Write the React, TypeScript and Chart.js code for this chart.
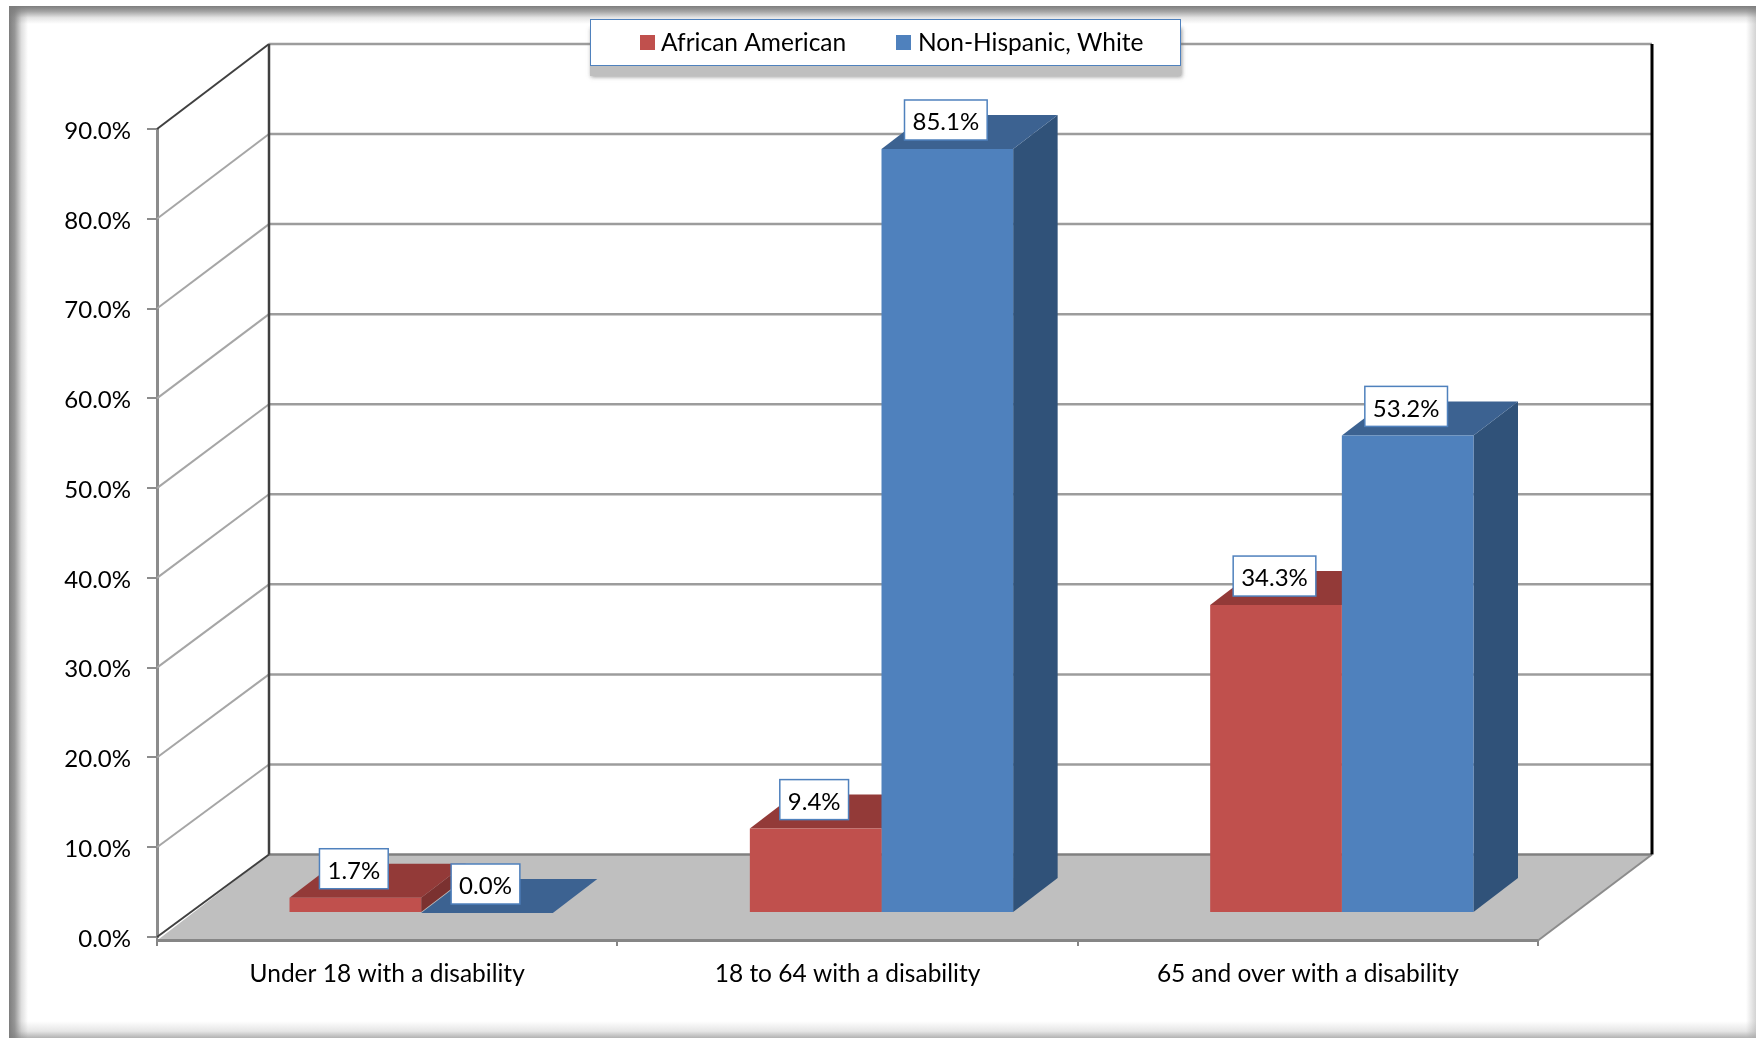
import React, { useEffect, useRef } from "react";
import { Chart, registerables } from "chart.js";

Chart.register(...registerables);

const categories = ["Under 18 with a disability", "18 to 64 with a disability", "65 and over with a disability"];
const africanAmerican = [1.7, 9.4, 34.3];
const nonHispanicWhite = [0.0, 85.1, 53.2];
const seriesNames = ["African American", "Non-Hispanic, White"];
const frontColors = ["#C0504D", "#4F81BD"];
const topColors = ["#933A38", "#3C6291"];
const sideColors = ["#7B3130", "#305279"];

const FONT = "Lato, Carlito, sans-serif";
const TICK_SIZE = 24;
const TEXT_SIZE = 24.5;
const BAR_SHIFT_X = 34;
const BAR_SHIFT_Y = 24;
const DEPTH_X = 44.5;
const DEPTH_Y = 34;
const WALL_X = 112;

function line(c: CanvasRenderingContext2D, pts: number[][], color: string, w: number) {
  c.strokeStyle = color;
  c.lineWidth = w;
  c.beginPath();
  pts.forEach((p, i) => (i ? c.lineTo(p[0], p[1]) : c.moveTo(p[0], p[1])));
  c.stroke();
}
function poly(c: CanvasRenderingContext2D, pts: number[][], color: string) {
  c.fillStyle = color;
  c.beginPath();
  pts.forEach((p, i) => (i ? c.lineTo(p[0], p[1]) : c.moveTo(p[0], p[1])));
  c.closePath();
  c.fill();
}

const framePlugin = {
  id: "frame",
  beforeDraw(chart: any) {
    const c = chart.ctx as CanvasRenderingContext2D;
    const L = 9, T = 6, R = 1756, B = 1038;
    c.save();
    c.fillStyle = "#ffffff";
    c.fillRect(0, 0, 1756, 1038);
    let g = c.createLinearGradient(R - 10, 0, R, 0);
    g.addColorStop(0, "rgba(200,200,200,0)");
    g.addColorStop(1, "rgba(200,200,200,0.8)");
    c.fillStyle = g;
    c.fillRect(R - 10, T, 10, B - T);
    g = c.createLinearGradient(0, B - 17, 0, B);
    g.addColorStop(0, "rgba(170,170,170,0)");
    g.addColorStop(0.6, "rgba(170,170,170,0.3)");
    g.addColorStop(1, "rgba(170,170,170,0.9)");
    c.fillStyle = g;
    c.fillRect(L, B - 17, R - L, 17);
    g = c.createLinearGradient(L, 0, L + 19, 0);
    g.addColorStop(0, "rgba(125,125,125,1)");
    g.addColorStop(0.3, "rgba(125,125,125,0.8)");
    g.addColorStop(0.65, "rgba(125,125,125,0.25)");
    g.addColorStop(1, "rgba(125,125,125,0)");
    c.fillStyle = g;
    c.fillRect(L, T, 19, B - T);
    g = c.createLinearGradient(0, T, 0, T + 18);
    g.addColorStop(0, "rgba(125,125,125,1)");
    g.addColorStop(0.3, "rgba(125,125,125,0.7)");
    g.addColorStop(0.65, "rgba(125,125,125,0.2)");
    g.addColorStop(1, "rgba(125,125,125,0)");
    c.fillStyle = g;
    c.fillRect(L, T, R - L, 18);
    c.restore();
  },
};

const wallsPlugin = {
  id: "walls",
  beforeDatasetsDraw(chart: any) {
    const c = chart.ctx as CanvasRenderingContext2D;
    const y = chart.scales.y;
    const { left, right } = chart.chartArea;
    const backX = left + WALL_X;
    const backR = right + 114;
    const backY = (v: number) => y.getPixelForValue(v) - (82.5 + (v / 90) * 2.5);
    const floorF = y.getPixelForValue(0) + 3.5;
    c.save();
    poly(c, [[left, floorF], [right, floorF], [backR, backY(0)], [backX, backY(0)]], "#BFBFBF");
    y.ticks.forEach((t: any) => {
      const v = t.value;
      if (v === 0) return;
      const dark = v === 90;
      line(c, [[left, y.getPixelForValue(v)], [backX, backY(v)]], dark ? "#404040" : "#A6A6A6", 2);
      line(c, [[backX, backY(v)], [backR, backY(v)]], "#9C9C9C", 2.5);
    });
    line(c, [[backX, backY(0)], [backR, backY(0)]], "#808080", 2.5);
    line(c, [[left, y.getPixelForValue(0)], [backX, backY(0)]], "#404040", 2);
    line(c, [[right, floorF], [backR, backY(0)]], "#8C8C8C", 2);
    line(c, [[backX, backY(90)], [backX, backY(0)]], "#404040", 2.5);
    line(c, [[backR, backY(90)], [backR, backY(0)]], "#000000", 3);
    line(c, [[left, floorF], [right, floorF]], "#868686", 3);
    // side and top faces of every bar, drawn behind the library's front faces
    c.translate(BAR_SHIFT_X, -BAR_SHIFT_Y);
    for (let d = chart.data.datasets.length - 1; d >= 0; d--) {
      chart.getDatasetMeta(d).data.forEach((bar: any) => {
        const l = bar.x - bar.width / 2, r = bar.x + bar.width / 2;
        const t = bar.y, b = bar.base;
        poly(c, [[r, t], [r + DEPTH_X, t - DEPTH_Y], [r + DEPTH_X, b - DEPTH_Y], [r, b]], sideColors[d]);
        poly(c, [[l, t], [r, t], [r + DEPTH_X, t - DEPTH_Y], [l + DEPTH_X, t - DEPTH_Y]], topColors[d]);
      });
    }
    c.restore();
    // the front faces themselves sit part way into the floor
    c.save();
    c.translate(BAR_SHIFT_X, -BAR_SHIFT_Y);
  },
  afterDatasetsDraw(chart: any) {
    const c = chart.ctx as CanvasRenderingContext2D;
    c.restore();
    c.save();
    c.font = `${TICK_SIZE}px ${FONT}`;
    c.textAlign = "center";
    c.textBaseline = "middle";
    chart.data.datasets.forEach((ds: any, d: number) => {
      chart.getDatasetMeta(d).data.forEach((bar: any, i: number) => {
        const text = ds.data[i].toFixed(1) + "%";
        const w = c.measureText(text).width + 16;
        const h = 40;
        const cx = bar.x + BAR_SHIFT_X - 1.5;
        const cy = bar.y - BAR_SHIFT_Y - 29;
        c.fillStyle = "#ffffff";
        c.fillRect(cx - w / 2, cy - h / 2, w, h);
        c.strokeStyle = "#4F81BD";
        c.lineWidth = 1.5;
        c.strokeRect(cx - w / 2, cy - h / 2, w, h);
        c.fillStyle = "#000000";
        c.fillText(text, cx, cy + 2.5);
      });
    });
    c.restore();
  },
};

const legendPlugin = {
  id: "boxLegend",
  afterDraw(chart: any) {
    const c = chart.ctx as CanvasRenderingContext2D;
    const x = 590, yT = 19, w = 591, h = 47;
    c.save();
    c.save();
    c.shadowColor = "rgba(110,110,110,0.7)";
    c.shadowBlur = 4;
    c.shadowOffsetX = 1;
    c.shadowOffsetY = 1;
    c.fillStyle = "#BFBFBF";
    c.fillRect(x, yT + 8, w, h + 2);
    c.restore();
    c.fillStyle = "#ffffff";
    c.fillRect(x, yT, w, h);
    c.strokeStyle = "#4F81BD";
    c.lineWidth = 1;
    c.strokeRect(x + 0.5, yT + 0.5, w - 1, h - 1);
    c.font = `${TEXT_SIZE}px ${FONT}`;
    c.textBaseline = "middle";
    c.textAlign = "left";
    const swatchX = [640, 896];
    const textX = [661, 918];
    chart.data.datasets.forEach((ds: any, d: number) => {
      c.fillStyle = ds.backgroundColor;
      c.fillRect(swatchX[d], 35, 15, 15);
      c.fillStyle = "#000000";
      c.fillText(ds.label, textX[d], 43);
    });
    c.restore();
  },
};

export default function App() {
  const ref = useRef<HTMLCanvasElement>(null);
  useEffect(() => {
    document.body.style.margin = "0";
    const chart = new Chart(ref.current as HTMLCanvasElement, {
      type: "bar",
      data: {
        labels: categories,
        datasets: [
          { label: seriesNames[0], data: africanAmerican, backgroundColor: frontColors[0], borderWidth: 0, clip: false },
          { label: seriesNames[1], data: nonHispanicWhite, backgroundColor: frontColors[1], borderWidth: 0, clip: false },
        ] as any,
      },
      options: {
        animation: false,
        responsive: false,
        devicePixelRatio: 1,
        layout: { padding: { left: 0, right: 218, top: 129, bottom: 41 } },
        datasets: { bar: { categoryPercentage: 0.572, barPercentage: 1 } },
        plugins: { legend: { display: false }, tooltip: { enabled: false } },
        scales: {
          x: {
            type: "category",
            afterFit: (s: any) => { s.height = 60; },
            grid: { drawOnChartArea: false, drawTicks: true, tickLength: 9, color: "#868686", lineWidth: 2, offset: true },
            border: { display: false },
            ticks: { color: "#000000", font: { family: FONT, size: TEXT_SIZE }, padding: 13, maxRotation: 0, autoSkip: false },
          },
          y: {
            type: "linear",
            min: 0,
            max: 90,
            afterFit: (s: any) => { s.width = 157; },
            grid: { drawOnChartArea: false, drawTicks: true, tickLength: 10, color: "#8C8C8C", lineWidth: 2 },
            border: { display: true, color: "#8C8C8C", width: 3 },
            ticks: {
              stepSize: 10,
              color: "#000000",
              padding: 16,
              labelOffset: 2,
              font: { family: FONT, size: TICK_SIZE },
              callback: (v: any) => Number(v).toFixed(1) + "%",
            },
          },
        },
      } as any,
      plugins: [framePlugin, wallsPlugin, legendPlugin] as any,
    });
    return () => chart.destroy();
  }, []);
  return <canvas ref={ref} width={1756} height={1038} style={{ display: "block", width: 1756, height: 1038 }} />;
}
